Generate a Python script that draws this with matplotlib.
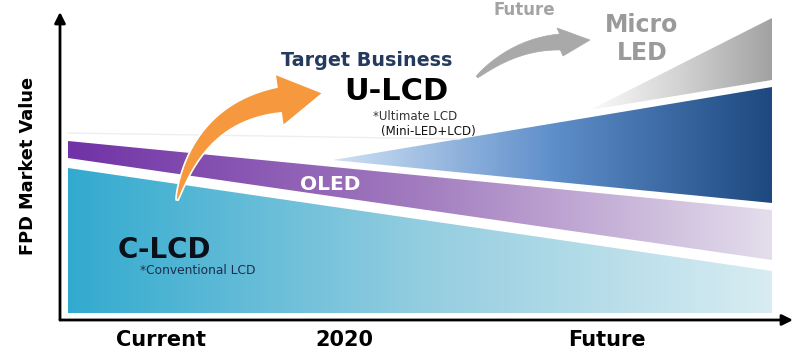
import numpy as np
import matplotlib
matplotlib.use("Agg")
import matplotlib.pyplot as plt
from matplotlib.patches import Polygon
from matplotlib.colors import LinearSegmentedColormap

# band outlines (arbitrary market-value units, x = time)
x_start = 8
x_end = 712
clcd_top = [152, 49]
clcd_bottom = [7, 7]
oled_bottom = [162, 60]
oled_top = [179, 110]
ulcd_start = 273
ulcd_apex = 160
ulcd_end = [117, 233]      # bottom, top at x_end
micro_start = 530
micro_apex = 210
micro_end = [240, 302]     # bottom, top at x_end

x_labels = ["Current", "2020", "Future"]
x_label_pos = [101, 284, 547]

clcd_colors = ["#32aacf", "#93cde0", "#d8ecf2"]
oled_colors = ["#7032a6", "#a27cbf", "#e4deec"]
ulcd_colors = ["#cfe1f5", "#5f8fca", "#1d4880"]
micro_colors = ["#fbfbfb", "#d2d2d2", "#a2a2a2"]


def grad_fill(ax, xs, ys, colors):
    poly = Polygon(np.column_stack([xs, ys]), closed=True, facecolor="none", edgecolor="none")
    ax.add_patch(poly)
    cmap = LinearSegmentedColormap.from_list("g", colors)
    im = ax.imshow(np.linspace(0, 1, 256).reshape(1, -1), cmap=cmap,
                   extent=[min(xs), max(xs), min(ys), max(ys)],
                   aspect="auto", origin="lower", interpolation="bilinear")
    im.set_clip_path(poly)


def curved_arrow(ax, tail, ctrl, base, tip, corner1, corner2, w0, w1, color, edge=None):
    p0, p1, p2 = np.array(tail), np.array(ctrl), np.array(base)
    t = np.linspace(0, 1, 60)[:, None]
    pts = (1 - t) ** 2 * p0 + 2 * (1 - t) * t * p1 + t ** 2 * p2
    d = 2 * (1 - t) * (p1 - p0) + 2 * t * (p2 - p1)
    d = d / np.linalg.norm(d, axis=1)[:, None]
    n = np.column_stack([-d[:, 1], d[:, 0]])
    w = (w0 + (w1 - w0) * t ** 0.7) / 2
    left = pts + n * w
    right = pts - n * w
    shape = np.vstack([left, [corner1], [tip], [corner2], right[::-1]])
    ax.add_patch(Polygon(shape, closed=True, facecolor=color,
                         edgecolor=edge if edge else color, lw=1.2 if edge else 0.5,
                         clip_on=False, zorder=4))


fig = plt.figure(figsize=(8, 3.59), dpi=100)
ax = fig.add_axes([60 / 800, 39 / 359, 733 / 800, 308 / 359])

# faint guide line
ax.plot([x_start, 400], [187, 181], color="#eeeeee", lw=1, zorder=1)

grad_fill(ax, [x_start, x_end, x_end, x_start],
          [clcd_bottom[0], clcd_bottom[1], clcd_top[1], clcd_top[0]], clcd_colors)
grad_fill(ax, [x_start, x_end, x_end, x_start],
          [oled_bottom[0], oled_bottom[1], oled_top[1], oled_top[0]], oled_colors)
grad_fill(ax, [ulcd_start, x_end, x_end],
          [ulcd_apex, ulcd_end[0], ulcd_end[1]], ulcd_colors)
grad_fill(ax, [micro_start, x_end, x_end],
          [micro_apex, micro_end[0], micro_end[1]], micro_colors)

ax.set_xlim(0, 733)
ax.set_ylim(0, 308)
ax.axis("off")

# axis arrows
ax.annotate("", xy=(0, 308), xytext=(0, 0),
            arrowprops=dict(arrowstyle="-|>", lw=2, color="black", mutation_scale=16,
                            shrinkA=0, shrinkB=0), annotation_clip=False)
ax.annotate("", xy=(733, 0), xytext=(0, 0),
            arrowprops=dict(arrowstyle="-|>", lw=2, color="black", mutation_scale=16,
                            shrinkA=0, shrinkB=0), annotation_clip=False)

# transition arrows
curved_arrow(ax, (117, 120), (139, 207), (219, 220), (263, 227), (215, 246), (223, 194),
             2, 26, "#f5983e", edge="white")
curved_arrow(ax, (417, 243), (455, 276), (500, 278), (530, 280), (497, 292), (503, 264),
             2, 16, "#a9a9a9")

# texts
ax.text(-32, 154, "FPD Market Value", rotation=90, ha="center", va="center",
        fontsize=12.8, fontweight="bold", clip_on=False)
for lab, xp in zip(x_labels, x_label_pos):
    ax.text(xp, -20, lab, ha="center", va="center", fontsize=15, fontweight="bold", clip_on=False)

ax.text(307, 254, "Target Business", ha="center", va="baseline", fontsize=13.8,
        fontweight="bold", color="#243a5e")
ax.text(336, 220, "U-LCD", ha="center", va="baseline", fontsize=22, fontweight="bold", color="black")
ax.text(313, 200, "*Ultimate LCD", ha="left", va="baseline", fontsize=8.5, color="#333333")
ax.text(321, 185, "(Mini-LED+LCD)", ha="left", va="baseline", fontsize=8.5, color="#111111",
        family="Liberation Sans Narrow")
ax.text(240, 130, "OLED", ha="left", va="baseline", fontsize=14.5, fontweight="bold", color="white")
ax.text(58, 62, "C-LCD", ha="left", va="baseline", fontsize=20, fontweight="bold", color="#0a0f1a")
ax.text(80, 46, "*Conventional LCD", ha="left", va="baseline", fontsize=8.8, color="#1d2d4a")
ax.text(464, 305, "Future", ha="center", va="baseline", fontsize=12, fontweight="bold",
        color="#a3a3a3", clip_on=False)
ax.text(582, 288, "Micro", ha="center", va="baseline", fontsize=17, fontweight="bold", color="#9a9a9a")
ax.text(582, 260, "LED", ha="center", va="baseline", fontsize=17, fontweight="bold", color="#9a9a9a")

fig.savefig("out.png", dpi=100, facecolor="white")
